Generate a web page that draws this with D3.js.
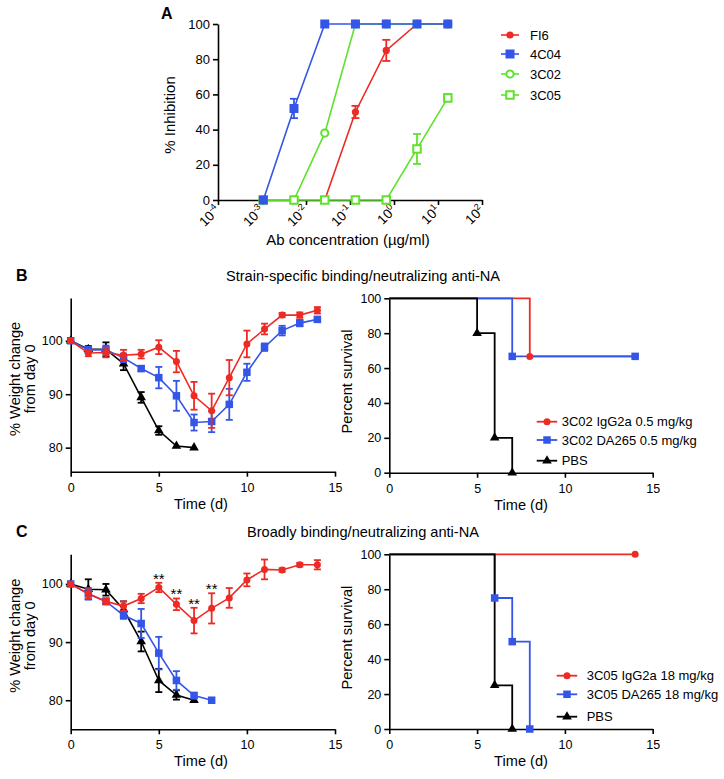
<!DOCTYPE html>
<html><head><meta charset="utf-8">
<script src="https://cdn.jsdelivr.net/npm/d3@7"></script>
<style>body{margin:0;background:#fff} svg text{font-family:"Liberation Sans",Arial,Helvetica,sans-serif;fill:#000}</style>
</head><body><svg id="c" width="724" height="779"></svg>
<script>
// ---------- DATA ----------
// Panel A
const concA = [0.00107, 0.00533, 0.0267, 0.133, 0.667, 3.33, 16.7];
const fi6 = [null, null, 0, 50, 85, 100, 100];
const fi6Err = [0, 0, 0, 3.5, 6, 0, 0];
const a4C04 = [0, 52, 100, 100, 100, 100, 100];
const a4C04Err = [0, 5.5, 0, 0, 0, 0, 0];
const a3C02 = [0, 0, 38, 100, 100, 100, 100];
const a3C02Err = [0, 0, 0, 0, 0, 0, 0];
const a3C05 = [0, 0, 0, 0, 0, 29, 58];
const a3C05Err = [0, 0, 0, 0, 0, 8.5, 2];
const xTicksA = [-4, -3, -2, -1, 0, 1, 2];
const legendA = ["FI6", "4C04", "3C02", "3C05"];

// Panel B weight (days 0..)
const days = [0,1,2,3,4,5,6,7,8,9,10,11,12,13,14];
const bRed = [100,97.7,97.8,97.3,97.5,98.8,96.1,89.7,86.9,93.1,99.4,102.2,104.8,104.8,105.7];
const bRedErr = [0,0.6,0.9,1,0.8,1.3,2,2.6,3.2,3.3,2.5,1,0.4,0.5,0.6];
const bBlue = [100,98.3,98.3,96.8,94.8,93.1,89.7,84.7,84.9,88.1,94.1,98.8,101.9,103.3,104.0];
const bBlueErr = [0,0.5,0.8,0.8,0.5,2,2.8,1.5,2,2.9,1.6,0.7,0.9,0.6,0.4];
const bBlack = [100,98.4,98.4,95.7,89.4,83.2,80.3,80.0];
const bBlackErr = [0,0.6,1.3,1.2,1,0.8,0,0];
// Panel B survival [day, percent]
const sBRed = [[0,100],[8,66.7],[14,66.7]];
const sBBlue = [[0,100],[7,66.7],[14,66.7]];
const sBBlack = [[0,100],[5,80],[6,20],[7,0]];
const legendB = ["3C02 IgG2a 0.5 mg/kg", "3C02 DA265 0.5 mg/kg", "PBS"];

// Panel C weight
const cRed = [100,98.3,97.0,96.2,97.5,99.4,96.5,93.7,95.8,97.6,100.7,102.5,102.4,103.3,103.3];
const cRedErr = [0,0.8,0.5,0.8,0.8,0.8,1,2.2,2.6,1.7,1.1,1.7,0.3,0.3,0.8];
const cBlue = [100,98.3,97.0,94.6,93.2,88.1,83.4,80.8,80.0];
const cBlueErr = [0,1,0.5,0.6,2.5,2.8,1.6,0.5,0];
const cBlack = [100,99.1,99.0,95.6,90.1,83.4,80.9,80.0];
const cBlackErr = [0,1.7,1,1.4,1.7,2,0.8,0];
const starDays = [5,6,7,8];
// Panel C survival
const sCRed = [[0,100],[14,100]];
const sCBlue = [[0,100],[6,75],[7,50],[8,0]];
const sCBlack = [[0,100],[6,25],[7,0]];
const legendC = ["3C05 IgG2a 18 mg/kg", "3C05 DA265 18 mg/kg", "PBS"];

// ---------- STYLE ----------
const RED = "#ee2a24", BLUE = "#3456e8", GREEN = "#5fe22c", BLACK = "#000";
const TITLE_FS = 14.6, TICK_FS = 12.5;
const svg = d3.select("#c");

function styleAxis(g, fs) {
  g.selectAll("path,line").attr("stroke", "#000").attr("stroke-width", 1.6);
  g.selectAll("text").attr("font-size", fs).attr("fill", "#000")
    .attr("font-family", '"Liberation Sans",Arial,sans-serif');
}
function marker(g, type, x, y, color, size) {
  if (type === "circle") {
    g.append("circle").attr("cx", x).attr("cy", y).attr("r", size).attr("fill", color);
  } else if (type === "ocircle") {
    g.append("circle").attr("cx", x).attr("cy", y).attr("r", size).attr("fill", "#fff")
      .attr("stroke", color).attr("stroke-width", 2);
  } else if (type === "square") {
    g.append("rect").attr("x", x - size/2).attr("y", y - size/2).attr("width", size).attr("height", size).attr("fill", color);
  } else if (type === "osquare") {
    g.append("rect").attr("x", x - size/2).attr("y", y - size/2).attr("width", size).attr("height", size)
      .attr("fill", "#fff").attr("stroke", color).attr("stroke-width", 2);
  } else if (type === "triangle") {
    g.append("path").attr("transform", `translate(${x},${y})`)
      .attr("d", d3.symbol(d3.symbolTriangle, size)()).attr("fill", color);
  }
}
function series(g, xs, ys, errs, x, y, color, type, msize, capW) {
  const pts = xs.map((d, i) => [d, ys[i], errs[i]]).filter(p => p[1] != null);
  g.append("path").datum(pts)
    .attr("d", d3.line().x(p => x(p[0])).y(p => y(p[1])))
    .attr("fill", "none").attr("stroke", color).attr("stroke-width", 1.6);
  pts.forEach(p => {
    if (p[2] > 0) {
      const y1 = y(p[1] + p[2]), y2 = y(p[1] - p[2]), cx = x(p[0]);
      g.append("line").attr("x1", cx).attr("x2", cx).attr("y1", y1).attr("y2", y2).attr("stroke", color).attr("stroke-width", 1.8);
      [y1, y2].forEach(yy => g.append("line").attr("x1", cx - capW/2).attr("x2", cx + capW/2)
        .attr("y1", yy).attr("y2", yy).attr("stroke", color).attr("stroke-width", 1.8));
    }
  });
  pts.forEach(p => marker(g, type, x(p[0]), y(p[1]), color, msize));
}

// ---------- PANEL A ----------
(function () {
  const x = d3.scaleLog().domain([1e-4, 1e2]).range([218, 482]);
  const y = d3.scaleLinear().domain([0, 100]).range([200, 24]);
  const g = svg.append("g");
  const ya = g.append("g").attr("transform", "translate(218,0)")
    .call(d3.axisLeft(y).tickValues([0,20,40,60,80,100]).tickSize(5).tickPadding(3).tickSizeOuter(0));
  styleAxis(ya, 13);
  const xa = g.append("g").attr("transform", "translate(0,200)")
    .call(d3.axisBottom(x).tickValues(xTicksA.map(e => Math.pow(10, e))).tickSize(5).tickFormat("").tickSizeOuter(0));
  styleAxis(xa, 13);
  xTicksA.forEach(e => {
    const t = g.append("text").attr("transform", `translate(${x(Math.pow(10, e)) + 3},${211}) rotate(-45)`)
      .attr("text-anchor", "end").attr("font-size", 13.5);
    t.append("tspan").text("10");
    t.append("tspan").attr("dy", -5.5).attr("font-size", 9).text(String(e));
  });
  g.append("text").attr("x", 348).attr("y", 245).attr("text-anchor", "middle").attr("font-size", 15).text("Ab concentration (\u00b5g/ml)");
  g.append("text").attr("transform", "translate(175,115) rotate(-90)").attr("text-anchor", "middle").attr("font-size", 15).text("% Inhibition");
  g.append("text").attr("x", 161).attr("y", 19).attr("font-size", 16).attr("font-weight", "bold").text("A");

  series(g, concA, fi6, fi6Err, x, y, RED, "circle", 3.6, 8);
  series(g, concA, a3C02, a3C02Err, x, y, GREEN, "ocircle", 3.6, 8);
  series(g, concA, a3C05, a3C05Err, x, y, GREEN, "osquare", 7.5, 8);
  series(g, concA, a4C04, a4C04Err, x, y, BLUE, "square", 9, 8);

  const lc = [RED, BLUE, GREEN, GREEN], lt = ["circle", "square", "ocircle", "osquare"], ls = [3.6, 9, 3.6, 7.5];
  const ly = [35, 54, 74, 95];
  legendA.forEach((name, i) => {
    g.append("line").attr("x1", 501).attr("x2", 519).attr("y1", ly[i]).attr("y2", ly[i]).attr("stroke", lc[i]).attr("stroke-width", 1.6);
    marker(g, lt[i], 510, ly[i], lc[i], ls[i]);
    g.append("text").attr("x", 530).attr("y", ly[i] + 4.7).attr("font-size", 13).text(name);
  });
})();

// ---------- WEIGHT PANELS ----------
function weightPanel(yTop, yBot, dom, red, redE, blue, blueE, black, blackE, stars) {
  const x = d3.scaleLinear().domain([0, 15]).range([70.7, 335]);
  const y = d3.scaleLinear().domain(dom).range([yBot, yTop]);
  const g = svg.append("g");
  const ya = g.append("g").attr("transform", "translate(70.7,0)")
    .call(d3.axisLeft(y).tickValues([80, 90, 100]).tickSize(5).tickPadding(3).tickSizeOuter(0));
  styleAxis(ya, TICK_FS);
  const xa = g.append("g").attr("transform", `translate(0,${yBot})`)
    .call(d3.axisBottom(x).tickValues([0, 5, 10, 15]).tickSize(5).tickPadding(6).tickSizeOuter(0));
  styleAxis(xa, TICK_FS);
  g.append("text").attr("x", 201).attr("y", yBot + 37).attr("text-anchor", "middle").attr("font-size", TITLE_FS).text("Time (d)");
  const cy = (yTop + yBot) / 2 - 6;
  g.append("text").attr("transform", `translate(20,${cy}) rotate(-90)`).attr("text-anchor", "middle").attr("font-size", TITLE_FS).text("% Weight change");
  g.append("text").attr("transform", `translate(34.5,${cy}) rotate(-90)`).attr("text-anchor", "middle").attr("font-size", TITLE_FS).text("from day 0");

  series(g, days, black, blackE, x, y, BLACK, "triangle", 40, 7);
  series(g, days, blue, blueE, x, y, BLUE, "square", 7.5, 7);
  series(g, days, red, redE, x, y, RED, "circle", 3.5, 7);
  if (stars) stars.forEach(d => {
    g.append("text").attr("x", x(d)).attr("y", y(red[d] + redE[d]) + 1).attr("text-anchor", "middle")
      .attr("font-size", 15).text("**");
  });
}
weightPanel(298, 471.7, [75.5, 108], bRed, bRedErr, bBlue, bBlueErr, bBlack, bBlackErr, null);
weightPanel(554.3, 729.3, [75, 105.1], cRed, cRedErr, cBlue, cBlueErr, cBlack, cBlackErr, starDays);

// ---------- SURVIVAL PANELS ----------
function survPanel(yTop, yBot, red, blue, black, names, lx, lys) {
  const x = d3.scaleLinear().domain([0, 15]).range([389.3, 652.7]);
  const y = d3.scaleLinear().domain([0, 100]).range([yBot, yTop]);
  const g = svg.append("g");
  const ya = g.append("g").attr("transform", "translate(389.3,0)")
    .call(d3.axisLeft(y).tickValues([0,20,40,60,80,100]).tickSize(5).tickPadding(3).tickSizeOuter(0));
  styleAxis(ya, TICK_FS);
  const xa = g.append("g").attr("transform", `translate(0,${yBot})`)
    .call(d3.axisBottom(x).tickValues([0, 5, 10, 15]).tickSize(5).tickPadding(6).tickSizeOuter(0));
  styleAxis(xa, TICK_FS);
  g.append("text").attr("x", 521).attr("y", yBot + 37).attr("text-anchor", "middle").attr("font-size", TITLE_FS).text("Time (d)");
  g.append("text").attr("transform", `translate(352,${(yTop + yBot) / 2 - 4}) rotate(-90)`).attr("text-anchor", "middle").attr("font-size", TITLE_FS).text("Percent survival");

  const step = d3.line().x(p => x(p[0])).y(p => y(p[1])).curve(d3.curveStepAfter);
  const sets = [[red, RED, "circle", 3.5], [blue, BLUE, "square", 7.5], [black, BLACK, "triangle", 40]];
  sets.forEach(s => {
    g.append("path").datum(s[0]).attr("d", step).attr("fill", "none").attr("stroke", s[1]).attr("stroke-width", 1.8);
  });
  sets.forEach(s => s[0].slice(1).forEach(p => marker(g, s[2], x(p[0]), y(p[1]), s[1], s[3])));

  sets.forEach((s, i) => {
    g.append("line").attr("x1", lx).attr("x2", lx + 20.5).attr("y1", lys[i]).attr("y2", lys[i]).attr("stroke", s[1]).attr("stroke-width", 1.8);
    marker(g, s[2], lx + 10.3, lys[i], s[1], s[3]);
    g.append("text").attr("x", lx + 25 + (lx > 550 ? 5 : 0)).attr("y", lys[i] + 4.7).attr("font-size", 13).text(names[i]);
  });
}
survPanel(298.3, 472.7, sBRed, sBBlue, sBBlack, legendB, 536.7, [421.7, 440, 460.7]);
survPanel(554.3, 729, sCRed, sCBlue, sCBlack, legendC, 556.7, [675.7, 694.3, 716.7]);

// ---------- TITLES / LETTERS ----------
svg.append("text").attr("x", 363).attr("y", 281).attr("text-anchor", "middle").attr("font-size", TITLE_FS).text("Strain-specific binding/neutralizing anti-NA");
svg.append("text").attr("x", 363).attr("y", 536.5).attr("text-anchor", "middle").attr("font-size", TITLE_FS).text("Broadly binding/neutralizing anti-NA");
svg.append("text").attr("x", 16).attr("y", 281).attr("font-size", 16).attr("font-weight", "bold").text("B");
svg.append("text").attr("x", 16).attr("y", 537).attr("font-size", 16).attr("font-weight", "bold").text("C");
</script></body></html>
